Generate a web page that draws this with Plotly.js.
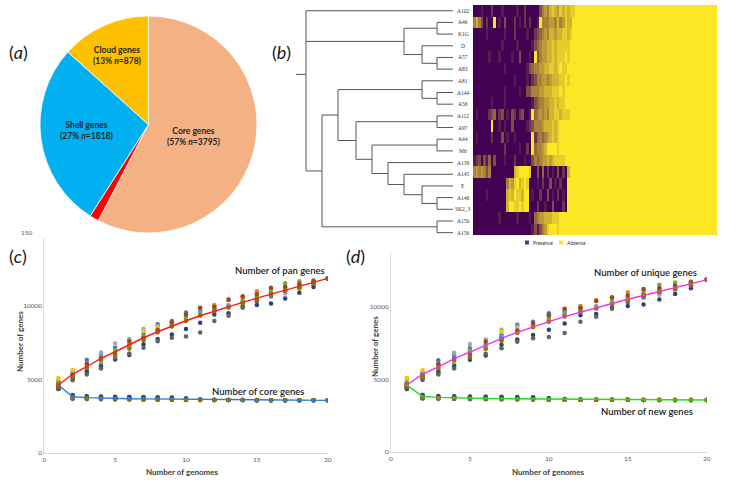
<!DOCTYPE html>
<html><head><meta charset="utf-8">
<script src="https://cdn.plot.ly/plotly-3.0.1.min.js"></script>
<style>html,body{margin:0;padding:0;background:#fff}#chart{width:736px;height:485px}</style>
</head><body><div id="chart"></div>
<script>
// ---------- Panel (a): pie ----------
const pieLabels = ['Core genes', 'Other genes', 'Shell genes', 'Cloud genes'];
const pieValues = [3795, 90, 1818, 878];
const piePercents = ['57%', '', '27%', '13%'];
const pieColors = ['#F4B183', '#FF0000', '#00B0F0', '#FFC000'];

// ---------- Panel (b): dendrogram + presence/absence heatmap ----------
const strainLabels = ['A102','A46','K1G','D','A57','A83','A81','A144','A56','A112',
                      'A97','A44','M6','A139','A145','E','A146','SK2_3','A150','A156'];
const mergeChildren = [[1,2],[4,5],[3,21],[20,22],[7,8],[6,24],[9,10],[11,12],[16,17],[15,28],
                       [14,29],[13,30],[27,31],[26,32],[25,33],[18,19],[34,35],[0,23,36]];
const mergeHeights = [16,16,31,49,16,31,16,16,16,31,49,65,81,97,115,16,131,147];
const rootStubHeight = 157;
const mixedRows = [
 "00010 00200 01000 00100 20000 03565 78768 78788",
 "57530 20090 10300 02010 20200 19555 66575 68779",
 "00000 10000 00100 02000 01002 34565 77677 88789",
 "00000 00000 01000 00100 00013 45667 78788 88899",
 "00000 01000 10000 10030 00109 35667 78788 89899",
 "00000 00000 00100 00000 01345 56677 88789 88999",
 "00000 00000 00000 01000 01023 55665 67778 89899",
 "00000 00000 00100 00010 03355 56677 78889 89999",
 "00000 00100 00100 00000 00013 45566 77878 89999",
 "01000 02340 23010 32023 00194 56565 77887 88899",
 "00000 00900 10100 30000 01235 55677 78789 99999",
 "01000 00200 03010 01000 00092 45456 78789 99999",
 "00000 00000 00200 00010 02094 55679 99989 99999",
 "12303 14030 00100 02000 10035 45667 67888 89999",
 "56565 35000 00000 07899 99800 30402 01030 20799",
 "00000 00000 00057 68978 98000 10200 30102 00999",
 "00000 10000 00078 79887 99010 02003 01020 10999",
 "00000 00000 00079 98898 99000 20010 03000 20999",
 "00000 00000 10000 00100 00104 56677 78889 99999",
 "00000 00000 00000 00000 00013 13568 99989 99999"
];
const absentTailColumns = 56;
const legendLabels = ['Presence', 'Absence'];

// ---------- Panels (c) and (d): accumulation curves ----------
const genomeCounts = [1,2,3,4,5,6,7,8,9,10,11,12,13,14,15,16,17,18,19,20];
const seriesColors = ['#4472C4','#ED7D31','#A5A5A5','#FFC000','#5B9BD5','#70AD47','#264478','#9E480E','#636363','#997300'];
const panSeries = [
 [4700,5450,6320,6700,7160,7340,8090,8770,8980,9570,9730,9800,9950,10300,10450,10700,11000,11200,11450,11890],
 [4450,5250,5400,6300,6750,7250,7900,8200,8700,9270,9500,10070,10480,10500,11020,11150,11300,11480,11600,11890],
 [4890,5500,5700,6840,7450,7750,8430,8650,8900,9050,9600,9660,10070,10100,10340,10860,10860,11320,11550,11890],
 [5100,5640,5900,6500,6950,7200,8300,8500,8800,9000,9390,9700,9900,10200,10500,10900,11100,11160,11500,11890],
 [4600,5350,6100,6600,6900,7400,7950,8400,8750,9430,9700,9900,10000,10250,10600,10640,11200,11400,11650,11890],
 [4750,5150,5600,6050,7000,7150,7700,8300,8650,9150,9450,9750,9950,10350,10570,10950,11550,11700,11770,11890],
 [4340,5050,5500,5900,6360,6660,7390,7750,8070,8430,8860,9430,9520,9950,10070,10180,10520,10910,11300,11890],
 [4400,5300,6050,6430,6700,7610,7800,8360,8900,9430,9890,9950,10420,10680,10800,11250,11320,11500,11700,11890],
 [4500,4950,5340,5750,6480,6770,7160,7610,7840,7930,8200,8980,9340,9890,10350,10750,11050,11300,11500,11890],
 [4650,5200,5800,6350,6600,7100,7680,8250,8600,8980,9350,9650,9900,10200,10450,10850,11090,11250,11550,11890]
];
const coreSeries = [
 [4700,3930,3860,3840,3820,3810,3800,3790,3760,3720,3650,3610,3600,3595,3590,3585,3580,3578,3575,3570],
 [4450,3660,3650,3640,3630,3620,3620,3610,3610,3605,3600,3598,3595,3590,3585,3580,3578,3575,3572,3570],
 [4890,3750,3700,3680,3660,3650,3640,3630,3620,3610,3600,3598,3595,3590,3585,3580,3578,3575,3572,3570],
 [5100,3800,3750,3720,3700,3690,3680,3660,3640,3630,3610,3600,3595,3590,3585,3580,3578,3575,3572,3570],
 [4600,3880,3820,3800,3790,3780,3760,3740,3720,3700,3640,3605,3598,3592,3588,3583,3578,3575,3572,3570],
 [4750,3820,3760,3740,3720,3700,3690,3670,3650,3630,3610,3600,3595,3590,3585,3580,3578,3575,3572,3570],
 [4340,3900,3840,3820,3800,3790,3780,3770,3740,3700,3620,3600,3595,3590,3585,3580,3578,3575,3572,3570],
 [4400,3700,3680,3660,3650,3640,3630,3620,3610,3600,3600,3598,3595,3590,3585,3580,3578,3575,3572,3570],
 [4500,3720,3690,3670,3650,3640,3630,3620,3610,3600,3598,3596,3594,3590,3585,3580,3578,3575,3572,3570],
 [4650,3780,3720,3700,3680,3670,3660,3650,3630,3620,3605,3600,3595,3590,3585,3580,3578,3575,3572,3570]
];
const panCurve = [4614,5364,5864,6432,6886,7386,7841,8250,8636,9000,9341,9659,9977,10250,10545,10818,11091,11364,11614,11886];
const coreCurve = [4600,3820,3760,3720,3700,3680,3670,3660,3640,3630,3610,3600,3595,3590,3585,3580,3578,3575,3572,3570];
const curveLabelsC = ['Number of pan genes', 'Number of core genes'];
const curveLabelsD = ['Number of unique genes', 'Number of new genes'];
const yTickVals = [0, 5000, 10000];
const yTickText = ['0', '5000', '10000'];
const xTickVals = [0, 5, 10, 15, 20];

// ---------- helpers ----------
const W = 736, H = 485;
const px = v => v / W;
const py = v => 1 - v / H;
const FONT = 'Lato, "Open Sans", sans-serif';

const traces = [];

// Pie
traces.push({
  type: 'pie', values: pieValues, labels: pieLabels, sort: false, direction: 'clockwise', rotation: 0,
  marker: {colors: pieColors, line: {color: '#ffffff', width: 0.8}},
  textinfo: 'none', hoverinfo: 'skip', showlegend: false,
  domain: {x: [px(40), px(257)], y: [py(233), py(16)]}
});

// Dendrogram
const nodeX = strainLabels.map(() => 0);
const nodeY = strainLabels.map((_, i) => i);
const dx = [], dy = [];
mergeChildren.forEach((ch, k) => {
  const h = mergeHeights[k];
  const cy = ch.map(c => nodeY[c]);
  dx.push(h, h, null); dy.push(Math.min(...cy), Math.max(...cy), null);
  ch.forEach(c => { dx.push(nodeX[c], h, null); dy.push(nodeY[c], nodeY[c], null); });
  nodeX.push(h); nodeY.push(cy.reduce((a, b) => a + b, 0) / cy.length);
});
const rootIdx = nodeX.length - 1;
dx.push(nodeX[rootIdx], rootStubHeight, null); dy.push(nodeY[rootIdx], nodeY[rootIdx], null);
traces.push({type: 'scatter', mode: 'lines', x: dx, y: dy, xaxis: 'x2', yaxis: 'y2',
  line: {color: '#555555', width: 1}, hoverinfo: 'skip', showlegend: false});

// Heatmap
const z = mixedRows.map(s => {
  const d = s.replace(/ /g, '').split('').map(Number);
  for (let i = 0; i < absentTailColumns; i++) d.push(9);
  return d;
});
traces.push({type: 'heatmap', z: z, xaxis: 'x3', yaxis: 'y3', zmin: 0, zmax: 9,
  colorscale: [[0, '#440154'], [1, '#FDE725']], showscale: false, hoverinfo: 'skip'});

// Scatter panels
function addPanel(xa, ya, lineColors) {
  seriesColors.forEach((col, i) => {
    traces.push({type: 'scatter', mode: 'markers', x: genomeCounts, y: panSeries[i], xaxis: xa, yaxis: ya,
      marker: {color: col, size: 4.5}, hoverinfo: 'skip', showlegend: false});
    traces.push({type: 'scatter', mode: 'markers', x: genomeCounts, y: coreSeries[i], xaxis: xa, yaxis: ya,
      marker: {color: col, size: 4.5}, hoverinfo: 'skip', showlegend: false});
  });
  traces.push({type: 'scatter', mode: 'lines', x: genomeCounts, y: panCurve, xaxis: xa, yaxis: ya,
    line: {color: lineColors[0], width: 1.4}, hoverinfo: 'skip', showlegend: false});
  traces.push({type: 'scatter', mode: 'lines', x: genomeCounts, y: coreCurve, xaxis: xa, yaxis: ya,
    line: {color: lineColors[1], width: 1.4}, hoverinfo: 'skip', showlegend: false});
}
addPanel('x4', 'y4', ['#FF1A1A', '#2E7BE0']);
addPanel('x5', 'y5', ['#F030F0', '#22DD22']);

const hidden = {visible: true, showgrid: false, zeroline: false, showticklabels: false, ticks: '', showline: false, fixedrange: true};
const tickFont = {family: FONT, size: 6.5, color: '#595959'};
const scatX = (dom, anchor) => ({domain: dom, anchor: anchor, range: [0, 20], tickvals: xTickVals, showgrid: false, zeroline: false,
  showline: true, linecolor: '#D9D9D9', linewidth: 1, ticks: '', tickfont: tickFont});
const scatY = (dom, anchor, top) => ({domain: dom, anchor: anchor, range: [0, top], tickvals: yTickVals, ticktext: yTickText,
  showgrid: false, zeroline: false, showline: true, linecolor: '#D9D9D9', linewidth: 1, ticks: '', tickfont: tickFont});

const ann = [];
const addText = (x, y, text, size, opts = {}) => ann.push(Object.assign({xref: 'paper', yref: 'paper', x: px(x), y: py(y),
  text: text, showarrow: false, font: {family: FONT, size: size, color: '#1a1a1a'}, xanchor: 'center', yanchor: 'middle'}, opts));

// panel letters
addText(18, 52, '(<i>a</i>)', 18);
addText(281, 52, '(<i>b</i>)', 18);
addText(18, 256, '(<i>c</i>)', 18);
addText(355, 256, '(<i>d</i>)', 18);

// pie labels
const piePos = [[193, 136], null, [86, 131], [117, 55]];
pieLabels.forEach((lab, i) => {
  if (!piePos[i]) return;
  addText(piePos[i][0], piePos[i][1], lab + '<br>(' + piePercents[i] + ' <i>n</i>=' + pieValues[i] + ')', 8.5,
    {font: {family: FONT, size: 8.5, color: '#262626', weight: 'bold'}});
});

// strain labels
strainLabels.forEach((s, i) => ann.push({xref: 'x2', yref: 'y2', x: -10, y: i, text: s, showarrow: false,
  font: {family: '"Liberation Serif", "DejaVu Serif", serif', size: 5.5, color: '#333333'}, xanchor: 'center', yanchor: 'middle'}));

// heatmap legend
const legFont = {family: FONT, size: 5, color: '#333'};
addText(531, 242.5, legendLabels[0], 5, {xanchor: 'left', font: legFont});
addText(565, 242.5, legendLabels[1], 5, {xanchor: 'left', font: legFont});

// curve labels
const curveFont = {family: FONT, size: 9.5, color: '#1a1a1a', weight: 600};
addText(280, 270, curveLabelsC[0], 9.5, {font: curveFont});
addText(258, 391, curveLabelsC[1], 9.5, {font: curveFont});
addText(645, 272, curveLabelsD[0], 9.5, {font: curveFont});
addText(647, 411, curveLabelsD[1], 9.5, {font: curveFont});

// axis titles
const titleFont = {family: FONT, size: 8, color: '#404040', weight: 'bold'};
addText(20, 342, 'Number of genes', 8, {textangle: -90, font: titleFont});
addText(375, 347, 'Number of genes', 8, {textangle: -90, font: titleFont});
addText(182, 472, 'Number of genomes', 8, {font: titleFont});
addText(548, 472, 'Number of genomes', 8, {font: titleFont});
addText(27, 232, '150', 6.5, {font: tickFont});

const layout = {
  width: W, height: H, margin: {l: 0, r: 0, t: 0, b: 0}, paper_bgcolor: '#ffffff', plot_bgcolor: 'rgba(0,0,0,0)',
  showlegend: false,
  xaxis: Object.assign({}, hidden, {visible: false}),
  yaxis: Object.assign({}, hidden, {visible: false}),
  xaxis2: Object.assign({}, hidden, {domain: [px(296), px(473)], range: [157, -20], anchor: 'y2'}),
  yaxis2: Object.assign({}, hidden, {domain: [py(238.5), py(4.9)], range: [19.5, -0.5], anchor: 'x2'}),
  xaxis3: Object.assign({}, hidden, {domain: [px(473), px(717)], range: [-0.5, 95.5], anchor: 'y3'}),
  yaxis3: Object.assign({}, hidden, {domain: [py(235), py(5)], range: [19.5, -0.5], anchor: 'x3'}),
  xaxis4: scatX([px(44.3), px(327.7)], 'y4'),
  yaxis4: scatY([py(452.7), py(238)], 'x4', 14645),
  xaxis5: scatX([px(391), px(706.7)], 'y5'),
  yaxis5: scatY([py(451.7), py(253)], 'x5', 13740),
  annotations: ann,
  shapes: [
    {type: 'rect', xref: 'paper', yref: 'paper', x0: px(525), x1: px(529), y0: py(244.5), y1: py(240.5), fillcolor: '#6A2C91', line: {width: 0}},
    {type: 'rect', xref: 'paper', yref: 'paper', x0: px(559), x1: px(563), y0: py(244.5), y1: py(240.5), fillcolor: '#FDE725', line: {width: 0}}
  ]
};

Plotly.newPlot('chart', traces, layout, {staticPlot: true, displayModeBar: false});
</script></body></html>
